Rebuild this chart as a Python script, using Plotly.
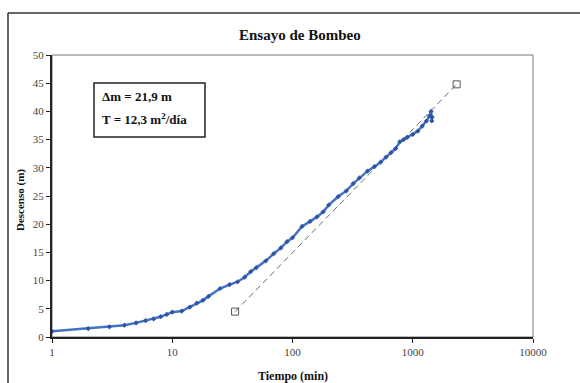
import plotly.graph_objects as go

# ---- data ----
tiempo_min = [1, 2, 3, 4, 5, 6, 7, 8, 9, 10, 12, 14, 16, 18, 20, 25, 30, 35, 40, 45,
              50, 60, 70, 80, 90, 100, 120, 140, 160, 180, 200, 240, 280, 320, 360,
              420, 480, 540, 600, 660, 720, 780, 840, 900, 1000, 1100, 1200, 1300,
              1380, 1420, 1440, 1450]
descenso_m = [1.0, 1.5, 1.8, 2.1, 2.5, 2.9, 3.2, 3.6, 4.0, 4.4, 4.6, 5.3, 6.0, 6.5, 7.2,
              8.6, 9.3, 9.8, 10.6, 11.6, 12.3, 13.5, 14.8, 15.8, 16.9, 17.6, 19.6, 20.5,
              21.3, 22.2, 23.4, 24.9, 25.9, 27.2, 28.2, 29.4, 30.2, 31.0, 31.9, 32.7,
              33.4, 34.6, 35.0, 35.4, 35.9, 36.5, 37.4, 38.3, 39.2, 40.0, 38.3, 39.0]

recta_t = [33.3, 2317]
recta_s = [4.5, 44.8]

x_ticks = [1, 10, 100, 1000, 10000]
y_ticks = [0, 5, 10, 15, 20, 25, 30, 35, 40, 45, 50]

title_text = "Ensayo de Bombeo"
x_title = "Tiempo (min)"
y_title = "Descenso (m)"
box_lines = ["Δm = 21,9 m", "T = 12,3 m<sup>2</sup>/día"]

# ---- layout geometry (pixels) ----
W, H = 580, 383
L, R, T, B = 52, 533, 55, 337
PW, PH = R - L, B - T


def px(x):
    return (x - L) / PW


def py(y):
    return (B - y) / PH


SERIF = "Liberation Serif, Times New Roman, serif"

fig = go.Figure()
fig.add_trace(go.Scatter(
    x=recta_t, y=recta_s, mode="lines+markers",
    line=dict(color="#6a6a6a", width=1, dash="6px,4px"),
    marker=dict(symbol="square-open", size=7, color="#555555", line=dict(width=1)),
    showlegend=False, hoverinfo="skip"))
fig.add_trace(go.Scatter(
    x=tiempo_min, y=descenso_m, mode="lines+markers",
    line=dict(color="#4472C4", width=2.5),
    marker=dict(symbol="diamond", size=4, color="#2F55A4"),
    showlegend=False))

axis_common = dict(showgrid=False, zeroline=False, ticks="outside", ticklen=4,
                   tickwidth=1, tickcolor="#222", showline=True, linecolor="#222",
                   linewidth=2, tickfont=dict(family=SERIF, size=11, color="#444"))

fig.update_layout(
    width=W, height=H, autosize=False,
    margin=dict(l=L, r=W - R, t=T, b=H - B, pad=0),
    paper_bgcolor="white", plot_bgcolor="white",
    xaxis=dict(type="log", range=[0, 4], tickvals=x_ticks,
               ticktext=[str(v) for v in x_ticks], **axis_common),
    yaxis=dict(range=[0, 50], tickvals=y_ticks,
               ticktext=[str(v) for v in y_ticks], **axis_common),
    shapes=[
        # plot area border (grey)
        dict(type="rect", xref="paper", yref="paper", x0=0, x1=1, y0=0, y1=1,
             line=dict(color="#777", width=1), layer="below"),
        # outer chart border (top & left)
        dict(type="line", xref="paper", yref="paper", x0=px(8), x1=px(582),
             y0=py(13), y1=py(13), line=dict(color="#333", width=1.5)),
        dict(type="line", xref="paper", yref="paper", x0=px(8), x1=px(8),
             y0=py(13), y1=py(390), line=dict(color="#333", width=1.5)),
        # text box
        dict(type="rect", xref="paper", yref="paper", x0=px(94), x1=px(205),
             y0=py(137), y1=py(83), line=dict(color="#222", width=1.5),
             fillcolor="white"),
    ],
    annotations=[
        dict(text="<b>%s</b>" % title_text, xref="paper", yref="paper",
             x=px(300), y=py(35), showarrow=False, xanchor="center", yanchor="middle",
             font=dict(family=SERIF, size=15, color="#111")),
        dict(text="<b>%s</b>" % x_title, xref="paper", yref="paper",
             x=px(293), y=py(376), showarrow=False, xanchor="center", yanchor="middle",
             font=dict(family=SERIF, size=12, color="#111")),
        dict(text="<b>%s</b>" % y_title, xref="paper", yref="paper",
             x=px(20), y=py(200), showarrow=False, xanchor="center", yanchor="middle",
             textangle=-90, font=dict(family=SERIF, size=11, color="#111")),
        dict(text="<b>%s</b>" % box_lines[0], xref="paper", yref="paper",
             x=px(100), y=py(96), showarrow=False, xanchor="left", yanchor="middle",
             font=dict(family=SERIF, size=13, color="#111")),
        dict(text="<b>%s</b>" % box_lines[1], xref="paper", yref="paper",
             x=px(100), y=py(119), showarrow=False, xanchor="left", yanchor="middle",
             font=dict(family=SERIF, size=13, color="#111")),
    ],
)

fig.write_html("out.html")
